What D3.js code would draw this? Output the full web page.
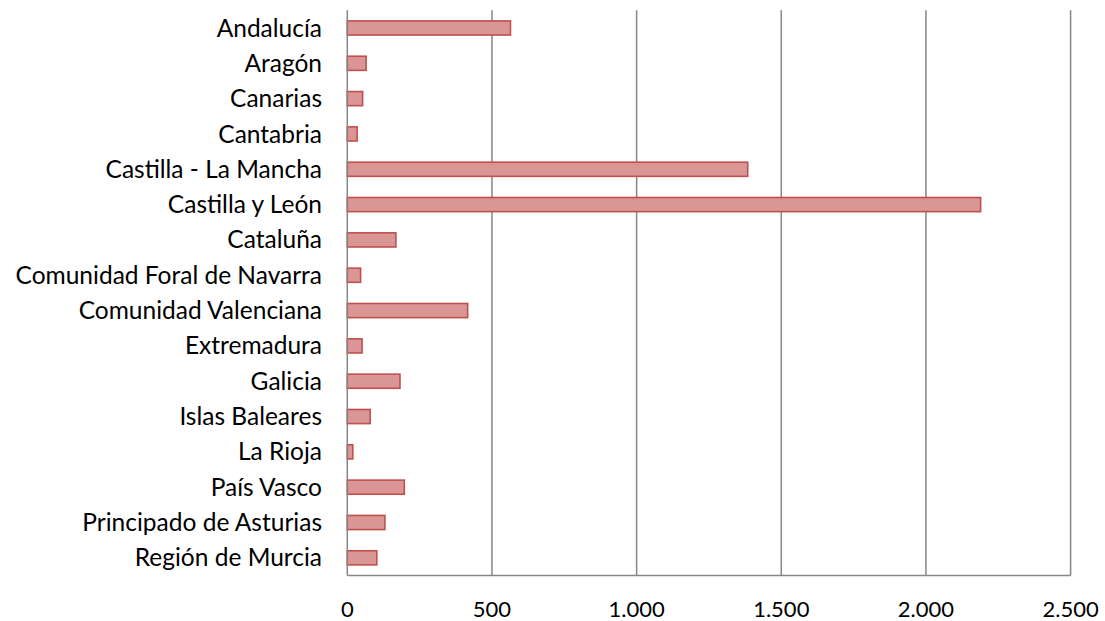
<!DOCTYPE html>
<html><head><meta charset="utf-8">
<script src="https://cdn.jsdelivr.net/npm/d3@7"></script>
<style>html,body{margin:0;padding:0;background:#fff;}svg{display:block;}</style>
</head><body>
<svg id="chart" width="1105" height="621"></svg>
<script>
const categories = ["Andalucía","Aragón","Canarias","Cantabria","Castilla - La Mancha","Castilla y León","Cataluña","Comunidad Foral de Navarra","Comunidad Valenciana","Extremadura","Galicia","Islas Baleares","La Rioja","País Vasco","Principado de Asturias","Región de Murcia"];
const values = [564, 65, 53, 34, 1384, 2189, 168, 46, 416, 51, 182, 79, 19, 197, 130, 102];
const xTicks = [0, 500, 1000, 1500, 2000, 2500];

const svg = d3.select("#chart");
const m = {left: 347.3, right: 1070.6, top: 10.3, bottom: 575.5};
const font = "Lato, 'Open Sans', sans-serif";

const x = d3.scaleLinear().domain([0, 2500]).range([m.left, m.right]);
const y = d3.scaleBand().domain(categories).range([m.top, m.bottom]).paddingInner(0.6).paddingOuter(0.3);

// gridlines
svg.append("g").selectAll("line").data(xTicks.slice(1)).join("line")
  .attr("x1", d => x(d)).attr("x2", d => x(d))
  .attr("y1", m.top).attr("y2", m.bottom)
  .attr("stroke", "#868686").attr("stroke-width", 1.5);

// bars
svg.append("g").selectAll("rect").data(values).join("rect")
  .attr("x", x(0))
  .attr("y", (d, i) => y(categories[i]))
  .attr("width", d => x(d) - x(0))
  .attr("height", y.bandwidth())
  .attr("fill", "#D99694")
  .attr("stroke", "#C0504D")
  .attr("stroke-width", 1.6);

// axes lines
svg.append("line").attr("x1", m.left).attr("x2", m.left).attr("y1", m.top).attr("y2", m.bottom)
  .attr("stroke", "#868686").attr("stroke-width", 1.5);
svg.append("line").attr("x1", m.left).attr("x2", m.right).attr("y1", m.bottom).attr("y2", m.bottom)
  .attr("stroke", "#868686").attr("stroke-width", 1.5);

// category labels
svg.append("g").selectAll("text").data(categories).join("text")
  .attr("x", 322)
  .attr("y", d => y(d) + y.bandwidth() / 2)
  .attr("dy", "0.35em")
  .attr("text-anchor", "end")
  .attr("font-family", font)
  .attr("font-size", 24.5)
  .attr("fill", "#000")
  .text(d => d);

// x tick labels
const fmt = d3.formatLocale({decimal: ",", thousands: ".", grouping: [3], currency: ["", "€"]}).format(",d");
svg.append("g").selectAll("text").data(xTicks).join("text")
  .attr("x", d => x(d))
  .attr("y", 609)
  .attr("dy", "0.35em")
  .attr("text-anchor", "middle")
  .attr("font-family", font)
  .attr("font-size", 22)
  .attr("fill", "#000")
  .text(d => fmt(d));
</script>
</body></html>
